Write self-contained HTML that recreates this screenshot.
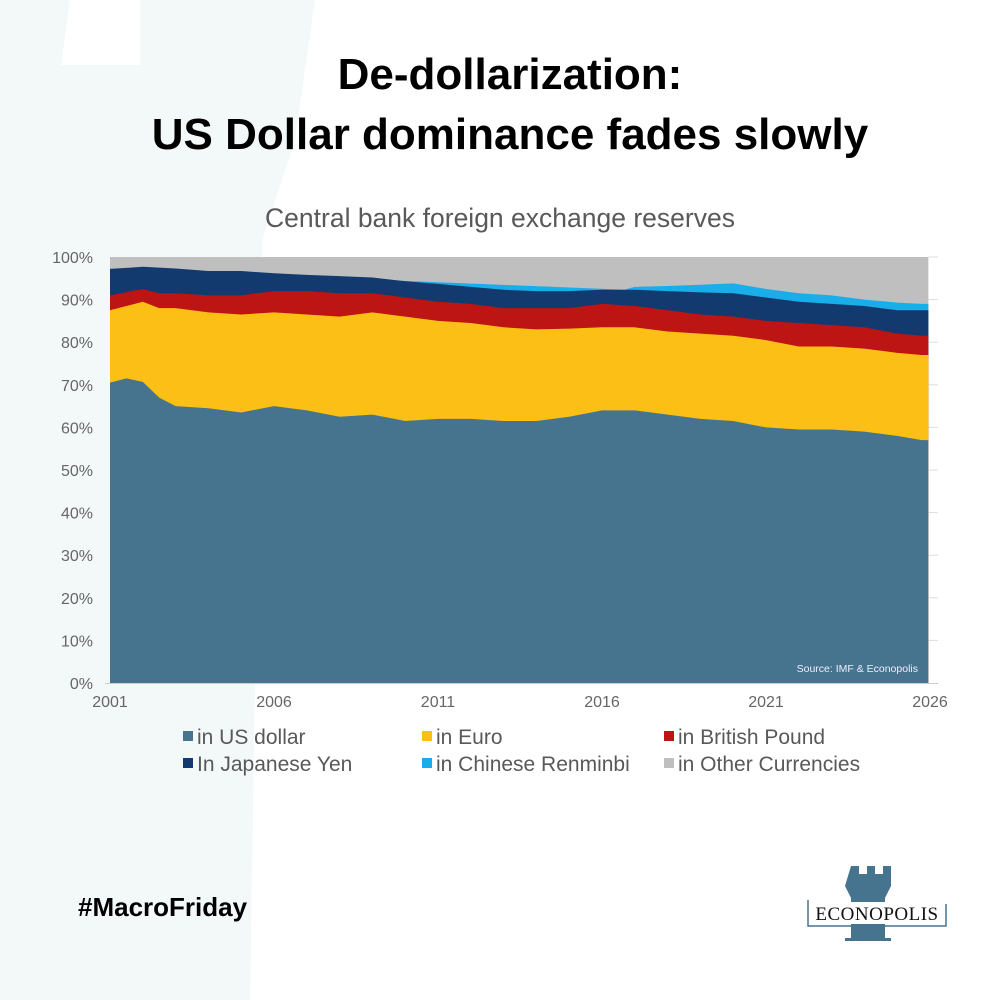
<!DOCTYPE html>
<html><head><meta charset="utf-8"><style>
body{margin:0;width:1000px;height:1000px;background:#fff;position:relative;overflow:hidden;font-family:"Liberation Sans",sans-serif}
.t{position:absolute;left:0;width:1020px;text-align:center;font-weight:bold;font-size:44px;color:#000;line-height:50px}
</style></head><body>
<svg width="1000" height="1000" style="position:absolute;left:0;top:0">
<polygon points="0,0 315,0 295,140 262,240 250,1000 0,1000" fill="#f3f8f9"/>
<polygon points="70,0 140,0 140,65 61,65" fill="#fff"/>
<g id="chart"></g>
<g font-size="16" fill="#666" font-family="Liberation Sans,sans-serif" id="ax"></g>
<text x="500" y="227" text-anchor="middle" font-size="26.5" fill="#595959">Central bank foreign exchange reserves</text>
<text x="918" y="672" text-anchor="end" font-size="10.5" fill="#eef">Source: IMF &amp; Econopolis</text>
<g font-size="21" fill="#595959">
<rect x="183" y="731" width="10" height="10" fill="#46748f"/><text x="197" y="744">in US dollar</text>
<rect x="422" y="731" width="10" height="10" fill="#fbbf15"/><text x="436" y="744">in Euro</text>
<rect x="664" y="731" width="10" height="10" fill="#bd1414"/><text x="678" y="744">in British Pound</text>
<rect x="183" y="758" width="10" height="10" fill="#123a6e"/><text x="197" y="771">In Japanese Yen</text>
<rect x="422" y="758" width="10" height="10" fill="#19aeea"/><text x="436" y="771">in Chinese Renminbi</text>
<rect x="664" y="758" width="10" height="10" fill="#bfbfbf"/><text x="678" y="771">in Other Currencies</text>
</g>
<text x="78" y="916" font-size="26" font-weight="bold" fill="#000">#MacroFriday</text>
<path d="M851,866 h8 v8 h8 v-8 h8 v8 h8 v-8 h8 v20 l-6,12 v40 l6,0 v3 h-46 v-3 l6,0 v-40 l-6,-12z" fill="#46748f"/>
<rect x="808" y="902" width="138" height="22" fill="#fff"/>
<polyline points="808,900 808,926 946,926 946,904" fill="none" stroke="#46748f" stroke-width="1.5"/>
<text x="877" y="920" text-anchor="middle" font-family="Liberation Serif,serif" font-size="19" fill="#111" letter-spacing="0.5">ECONOPOLIS</text>
</svg>
<div class="t" style="top:50px">De-dollarization:</div>
<div class="t" style="top:110px">US Dollar dominance fades slowly</div>
<script>
const X=t=>110+(t-2001)*32.8, Y=p=>683-p*4.26;
const usd=[[2001,70.5],[2001.5,71.5],[2002,70.7],[2002.5,67],[2003,65],[2004,64.5],[2005,63.5],[2006,65],[2007,64],[2008,62.5],[2009,63],[2010,61.5],[2011,62],[2012,62],[2013,61.5],[2014,61.5],[2015,62.5],[2016,64],[2017,64],[2018,63],[2019,62],[2020,61.5],[2021,60],[2022,59.5],[2023,59.5],[2024,59],[2025,58],[2025.75,57]];
const eur=[[2001,87.5],[2001.5,88.5],[2002,89.5],[2002.5,88],[2003,88],[2004,87],[2005,86.5],[2006,87],[2007,86.5],[2008,86],[2009,87],[2010,86],[2011,85],[2012,84.5],[2013,83.5],[2014,83],[2015,83.2],[2016,83.5],[2017,83.5],[2018,82.5],[2019,82],[2020,81.5],[2021,80.5],[2022,79],[2023,79],[2024,78.5],[2025,77.5],[2025.75,77]];
const gbp=[[2001,91],[2002,92.5],[2002.5,91.5],[2003,91.5],[2004,91],[2005,91],[2006,92],[2007,92],[2008,91.5],[2009,91.5],[2010,90.5],[2011,89.5],[2012,89],[2013,88],[2014,88],[2015,88],[2016,89],[2017,88.5],[2018,87.5],[2019,86.5],[2020,86],[2021,85],[2022,84.5],[2023,84],[2024,83.5],[2025,82],[2025.75,81.5]];
const jpy=[[2001,97.2],[2002,97.7],[2003,97.3],[2004,96.7],[2005,96.7],[2006,96.2],[2007,95.8],[2008,95.5],[2009,95.2],[2010,94.3],[2011,93.7],[2012,93],[2013,92.3],[2014,92],[2015,92],[2016,92.3],[2017,92.3],[2018,92],[2019,91.7],[2020,91.5],[2021,90.5],[2022,89.5],[2023,89],[2024,88.5],[2025,87.5],[2025.75,87.5]];
const cny=[[2001,97.2],[2016.7,92.3],[2016.75,92.5],[2017,93],[2018,93.2],[2019,93.5],[2020,93.8],[2021,92.5],[2022,91.5],[2023,91],[2024,90],[2025,89.3],[2025.75,89]];
const E=2025.95;
function poly(top,fill){let p=top.map(([t,v])=>X(t)+","+Y(v));p.unshift(X(2001)+","+Y(0));p.push(X(E)+","+Y(top[top.length-1][1]),X(E)+","+Y(0));return `<polygon points="${p.join(" ")}" fill="${fill}"/>`;}
let s=`<rect x="${X(2001)}" y="${Y(100)}" width="${X(E)-X(2001)}" height="${Y(0)-Y(100)}" fill="#bfbfbf"/>`;
s+=poly(cny,"#19aeea")+poly(jpy,"#123a6e")+poly(gbp,"#bd1414")+poly(eur,"#fbbf15")+poly(usd,"#46748f");
for(let i=1;i<=10;i++)s+=`<line x1="${X(E)}" x2="938" y1="${Y(i*10)}" y2="${Y(i*10)}" stroke="#ddd"/>`;
s+=`<line x1="105" x2="938" y1="683.5" y2="683.5" stroke="#ccc"/>`;
document.getElementById("chart").innerHTML=s;
let a="";
for(let i=0;i<=10;i++)a+=`<text x="93" y="${Y(i*10)+6}" text-anchor="end">${i*10}%</text>`;
[2001,2006,2011,2016,2021,2026].forEach(y=>a+=`<text x="${X(y)}" y="707" text-anchor="middle">${y}</text>`);
document.getElementById("ax").innerHTML=a;
</script>
</body></html>
